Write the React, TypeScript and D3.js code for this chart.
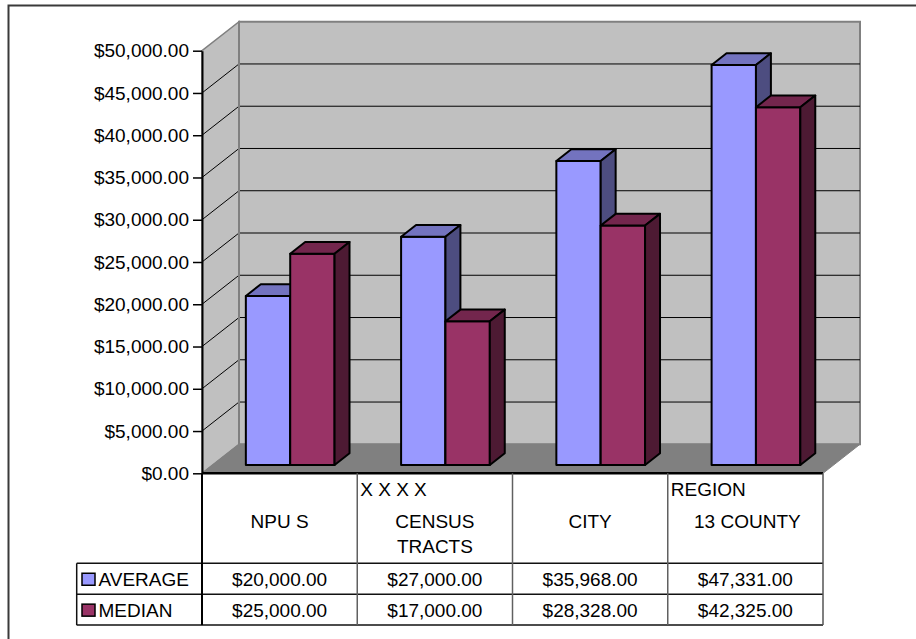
import { useEffect, useRef } from 'react'
import * as d3 from 'd3'

const categories = ['NPU S', 'CENSUS TRACTS', 'CITY', '13 COUNTY']
const categoryTopLines = ['', 'X X X X', '', 'REGION']
const categoryLines = [['NPU S'], ['CENSUS', 'TRACTS'], ['CITY'], ['13 COUNTY']]
const seriesNames = ['AVERAGE', 'MEDIAN']
const averageValues = [20000, 27000, 35968, 47331]
const medianValues = [25000, 17000, 28328, 42325]
const yTicks = [0, 5000, 10000, 15000, 20000, 25000, 30000, 35000, 40000, 45000, 50000]

const seriesColors = [
  { front: '#9999FF', top: '#7373BF', side: '#4D4D80' },
  { front: '#993366', top: '#73264D', side: '#4D1A33' },
]

export default function App() {
  const svgRef = useRef<SVGSVGElement>(null)

  useEffect(() => {
    if (!svgRef.current) return
    const svg = d3.select(svgRef.current)
    svg.selectAll('*').remove()

    const font = '"Liberation Sans", Arial, sans-serif'
    const fs = 19

    const left = 202
    const right = 823
    const yBottom = 473.3
    const yTop = 50.7
    const depthX = 37
    const depthY = 29
    const barZ0 = 0.286
    const barZ1 = 0.69

    const x = d3.scaleBand<string>().domain(categories).range([left, right])
    const xs = d3.scaleBand<string>().domain(seriesNames).range([0, x.bandwidth()])
      .paddingInner(0).paddingOuter(0.75)
    const y = d3.scaleLinear().domain([0, 50000]).range([yBottom, yTop])

    const P = (px: number, v: number, z: number): [number, number] => [px + z * depthX, y(v) - z * depthY]
    const poly = (pts: [number, number][]) => pts.map(p => p.join(',')).join(' ')

    // outer frame
    svg.append('rect')
      .attr('x', 8.5).attr('y', 5.5).attr('width', 1000).attr('height', 1000)
      .attr('fill', 'white').attr('stroke', '#3a3a3a').attr('stroke-width', 2)

    // side wall
    svg.append('polygon')
      .attr('points', poly([P(left, 0, 0), P(left, 50000, 0), P(left, 50000, 1), P(left, 0, 1)]))
      .attr('fill', '#C0C0C0').attr('stroke', '#808080').attr('stroke-width', 1.5)

    // back wall
    svg.append('polygon')
      .attr('points', poly([P(left, 0, 1), P(left, 50000, 1), P(right, 50000, 1), P(right, 0, 1)]))
      .attr('fill', '#C0C0C0').attr('stroke', '#808080').attr('stroke-width', 2)

    // floor
    svg.append('polygon')
      .attr('points', poly([P(left, 0, 0), P(right, 0, 0), P(right, 0, 1), P(left, 0, 1)]))
      .attr('fill', '#808080').attr('stroke', '#808080').attr('stroke-width', 1)

    // gridlines
    const grid = svg.append('g')
    yTicks.filter(t => t > 0 && t < 50000).forEach(t => {
      const a = P(left, t, 0)
      const b = P(left, t, 1)
      const c = P(right, t, 1)
      grid.append('polyline')
        .attr('points', poly([a, b, c]))
        .attr('fill', 'none').attr('stroke', '#000').attr('stroke-width', 1)
    })
    // back wall left edge redrawn over gridlines
    svg.append('line')
      .attr('x1', left + depthX).attr('x2', left + depthX)
      .attr('y1', y(50000) - depthY).attr('y2', y(0) - depthY)
      .attr('stroke', '#808080').attr('stroke-width', 2)

    // bars
    const valuesBySeries = [averageValues, medianValues]
    categories.forEach((cat, ci) => {
      seriesNames.forEach((s, si) => {
        const v = valuesBySeries[si][ci]
        const x0 = (x(cat) ?? 0) + (xs(s) ?? 0)
        const x1 = x0 + xs.bandwidth()
        const col = seriesColors[si]
        const g = svg.append('g').attr('stroke', '#000').attr('stroke-width', 2).attr('stroke-linejoin', 'round')
        g.append('polygon')
          .attr('points', poly([P(x0, 0, barZ0), P(x1, 0, barZ0), P(x1, v, barZ0), P(x0, v, barZ0)]))
          .attr('fill', col.front)
        g.append('polygon')
          .attr('points', poly([P(x0, v, barZ0), P(x1, v, barZ0), P(x1, v, barZ1), P(x0, v, barZ1)]))
          .attr('fill', col.top)
        g.append('polygon')
          .attr('points', poly([P(x1, 0, barZ0), P(x1, 0, barZ1), P(x1, v, barZ1), P(x1, v, barZ0)]))
          .attr('fill', col.side)
      })
    })

    // y axis
    const axis = svg.append('g')
      .attr('transform', `translate(${left},0)`)
      .call(d3.axisLeft(y).tickValues(yTicks).tickSize(9).tickSizeOuter(0).tickPadding(4)
        .tickFormat(d => d3.format('$,.2f')(d as number)))
    axis.selectAll('text').attr('font-family', font).attr('font-size', fs).attr('fill', '#000')
    axis.selectAll('line').attr('stroke', '#000').attr('stroke-width', 1.5)
    axis.select('.domain').attr('stroke', '#000').attr('stroke-width', 2)

    // data table
    const rowTop = 563.3
    const rowH = 30.9
    const tableLeft = 76.7
    const tableBottom = rowTop + rowH * 2
    const t = svg.append('g')

    t.append('line').attr('x1', left).attr('x2', right).attr('y1', yBottom).attr('y2', yBottom)
      .attr('stroke', '#000').attr('stroke-width', 2.5)
    ;[rowTop, rowTop + rowH, tableBottom].forEach(yy => {
      t.append('line').attr('x1', tableLeft).attr('x2', right).attr('y1', yy).attr('y2', yy)
        .attr('stroke', '#111').attr('stroke-width', 1.5)
    })
    t.append('line').attr('x1', tableLeft).attr('x2', tableLeft).attr('y1', rowTop).attr('y2', tableBottom)
      .attr('stroke', '#111').attr('stroke-width', 1.5)
    t.append('line').attr('x1', left).attr('x2', left).attr('y1', yBottom).attr('y2', tableBottom)
      .attr('stroke', '#000').attr('stroke-width', 2)
    categories.slice(1).forEach(cat => {
      const xx = x(cat) ?? 0
      t.append('line').attr('x1', xx).attr('x2', xx).attr('y1', yBottom).attr('y2', tableBottom)
        .attr('stroke', '#606060').attr('stroke-width', 1.5)
    })
    t.append('line').attr('x1', right).attr('x2', right).attr('y1', yBottom).attr('y2', tableBottom)
      .attr('stroke', '#555').attr('stroke-width', 1.5)

    const text = (tx: number, ty: number, s: string, anchor = 'middle') =>
      t.append('text').attr('x', tx).attr('y', ty).attr('text-anchor', anchor)
        .attr('dominant-baseline', 'central')
        .attr('font-family', font).attr('font-size', fs).attr('fill', '#000').text(s)

    categories.forEach((cat, ci) => {
      const x0 = x(cat) ?? 0
      const cx = x0 + x.bandwidth() / 2
      if (categoryTopLines[ci]) text(x0 + 3, 489, categoryTopLines[ci], 'start')
      categoryLines[ci].forEach((line, li) => {
        const off = ci === 3 ? 2 : 0
        text(cx + off, 521 + li * 25.5, line)
      })
      valuesBySeries.forEach((vals, si) => {
        text(cx, rowTop + rowH * si + rowH / 2 + 0.5, d3.format('$,.2f')(vals[ci]))
      })
    })

    seriesNames.forEach((s, si) => {
      const cy = rowTop + rowH * si + rowH / 2
      t.append('rect').attr('x', 82).attr('y', cy - 5.5).attr('width', 13).attr('height', 12)
        .attr('fill', seriesColors[si].front).attr('stroke', '#000').attr('stroke-width', 1.5)
      text(98.5, cy + 0.5, s, 'start')
    })
  }, [])

  return (
    <div style={{ position: 'fixed', left: 0, top: 0, width: 916, height: 639, overflow: 'hidden' }}>
      <svg ref={svgRef} width={916} height={639} style={{ display: 'block' }}></svg>
    </div>
  )
}
